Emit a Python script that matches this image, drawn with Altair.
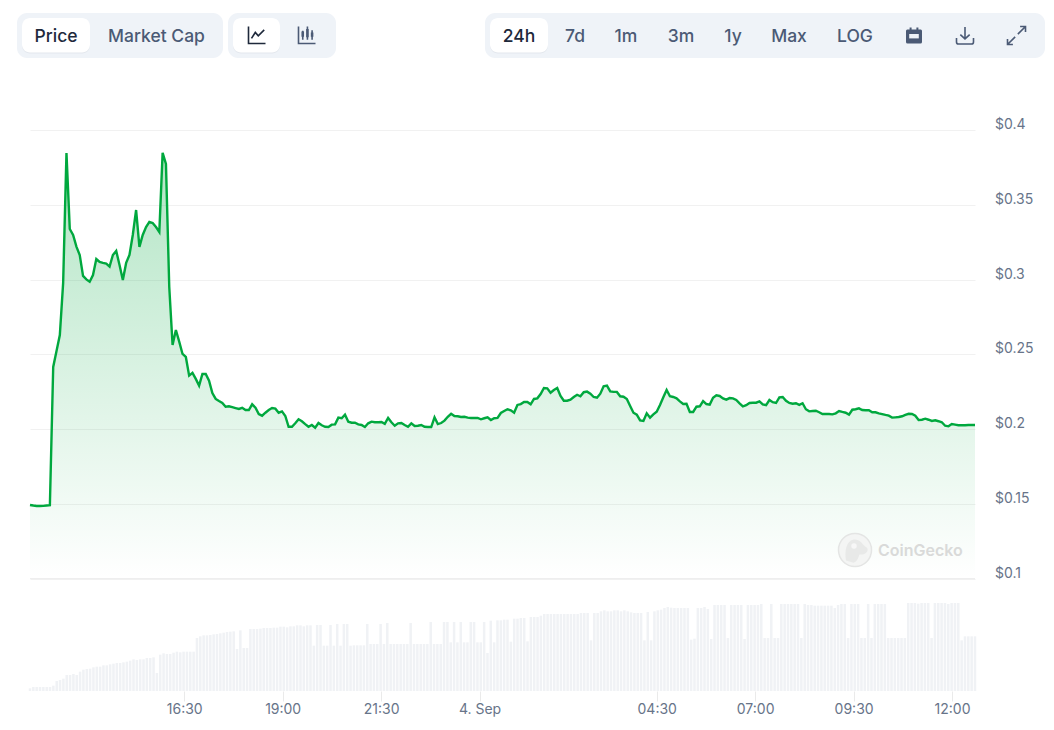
import altair as alt
import pandas as pd

price = [
 .1492,.1488,.1485,.1485,.1486,.1488,.149,.2415,.2522,.2629,.2977,.3846,.3338,.3298,.322,.3164,.3024,.3001,.2985,.303,
 .3137,.3117,.3111,.3106,.3086,.3164,.3191,.3097,.2997,.3111,.3164,.3298,.3465,.3218,.3298,.3351,.3385,.3378,.3351,.3318,
 .3848,.3773,.295,.2562,.2662,.2584,.2502,.2482,.2357,.2375,.2335,.229,.2368,.2368,.2323,.2241,.2201,.2187,.2174,.2149,
 .2152,.2146,.214,.2134,.2142,.2127,.2127,.2165,.2142,.21,
 .2089,.2109,.2127,.214,.2136,.2109,.2118,.2087,.2015,.2015,.2038,.2065,.2052,.2033,.2015,.2027,.2009,.204,.2025,.2015,
 .2013,.2029,.2031,.2076,.2072,.2096,.2049,.2042,.2042,.2031,.2027,.2013,.2038,.2049,.2045,.2045,.2047,.2035,.2074,.2045,
 .2022,.2038,.204,.2027,.2015,.2038,.202,.2022,.2027,.2015,.2013,.2013,.2078,.2033,.204,.2056,.2082,.2102,.2087,.2085,
 .208,.2082,.2076,.2074,.2074,.2074,.2065,.2072,.2078,.206,.2072,.2074,.2107,.212,.2132,.2125,.2109,.2161,.2167,.2181,
 .2181,.2165,.2201,.2205,.2234,.2274,.2272,.2243,.2261,.2274,.2221,.2189,.2189,.2196,.2214,.2229,.2219,.2246,.225,.2236,
 .2214,.2209,.2236,.2286,.229,.2252,.2248,.2248,
 .2219,.2216,.2201,.2154,.2109,.2096,.2058,.2054,.2105,.2076,.2098,.2116,.2161,.2212,.2261,.2219,.2214,.2205,.2185,.2167,
 .2169,.2114,.2114,.2149,.2152,.2187,.2167,.2163,.2209,.2225,.2221,.2205,.2196,.2207,.2205,.2194,.2172,.2152,.2159,.2174,
 .2176,.2176,.2185,.2165,.2159,.2194,.2179,.2174,.2212,.2214,.2189,.2174,.2169,.2172,.2161,.2172,.2132,.2118,.212,.2122,
 .2112,.21,.21,.21,.2098,.2105,.212,.2114,.2109,.2096,.2129,.2132,.2138,.2127,.2125,.2125,.2112,.2112,.2105,.21,
 .2094,.2089,.2076,.2078,.208,.2085,.2094,.2102,.21,.2089,.206,.2062,.2069,.2062,.2054,.2058,.2052,.2045,.2022,.2018,
 .2033,.2029,.2025,.2025,.2025,.2027,.2027,.2027,
]

volume = [
 8,12,12,12,12,12,12,16,30,33,37,48,48,51,48,58,64,66,67,71,73,73,77,77,80,82,84,84,86,88,91,95,93,95,95,99,99,101,54,109,
 113,111,111,115,118,116,118,118,118,118,159,164,167,167,168,170,171,173,175,177,178,179,126,182,129,129,186,186,186,187,
 189,189,189,190,190,193,193,191,194,194,197,197,194,197,197,136,198,198,136,136,198,136,201,136,201,201,136,137,137,137,
 137,201,141,141,141,201,141,204,141,141,141,141,141,141,204,141,141,141,141,141,207,141,141,141,207,207,146,207,146,207,
 146,146,207,207,146,146,207,114,211,146,212,212,214,214,148,217,217,
 219,219,149,222,222,222,226,231,231,231,231,231,231,231,231,231,231,231,234,234,234,152,234,234,239,242,239,239,242,242,
 239,242,239,236,234,234,234,152,237,152,239,242,244,249,252,250,249,249,249,249,249,154,157,249,249,252,246,156,258,258,
 258,258,159,258,258,258,258,156,258,258,258,258,261,159,159,261,159,159,261,261,261,261,261,261,159,261,258,258,256,256,
 256,256,256,256,249,258,261,261,159,261,261,261,159,159,261,159,261,261,261,261,159,159,159,159,159,159,264,264,264,262,
 264,264,264,159,264,264,264,264,261,264,264,264,152,164,164,164,164,
]

tick_times = ["2024-09-03T16:30:00Z", "2024-09-03T19:00:00Z", "2024-09-03T21:30:00Z", "2024-09-04T00:00:00Z",
              "2024-09-04T04:30:00Z", "2024-09-04T07:00:00Z", "2024-09-04T09:30:00Z", "2024-09-04T12:00:00Z"]
price_ticks = [0.1, 0.15, 0.2, 0.25, 0.3, 0.35, 0.4]
range_buttons = [("24h", 519), ("7d", 575), ("1m", 626), ("3m", 681), ("1y", 733), ("Max", 789), ("LOG", 855)]

START = pd.Timestamp("2024-09-03T12:35:00Z")
END = pd.Timestamp("2024-09-04T12:35:00Z")


def spine(n):
    return pd.date_range(START, END, periods=n).strftime("%Y-%m-%dT%H:%M:%SZ").tolist()


def ms(t):
    return int(pd.Timestamp(t).timestamp() * 1000)


price_df = pd.DataFrame({"time": spine(len(price)), "price": price})
vol_df = pd.DataFrame({"time": spine(len(volume)), "volume": volume})

FONT = "Inter"
x_scale = alt.Scale(type="utc", domain=[ms(START), ms(END)], padding=0, nice=False)
x_axis = alt.Axis(
    values=[ms(t) for t in tick_times],
    labelExpr="utchours(datum.value) === 0 ? '4. Sep' : utcFormat(datum.value, '%H:%M')",
    title=None, grid=False, domain=False, tickSize=10, tickColor="#eaeaea", tickWidth=1,
    labelPadding=1, labelFont=FONT, labelFontSize=14, labelColor="#677489", labelOverlap=False, labelFlush=False,
)
y_scale = alt.Scale(domain=[0.1, 0.4], range=[448.5, 0])
y_axis = alt.Axis(
    values=price_ticks, orient="right",
    labelExpr="'$' + format(datum.value, '.2~f')",
    title=None, grid=True, gridColor="#f1f1f1", gridWidth=1, domain=False, ticks=False,
    labelPadding=19.5, labelOffset=-5.5, labelFont=FONT, labelFontSize=14, labelColor="#677489", labelAlign="left",
    labelBaseline="middle",
)
X = alt.X("time:T", scale=x_scale, axis=x_axis)

bars = alt.Chart(vol_df).mark_bar(width=2.5, color="#f0f2f5").encode(
    x=X,
    y=alt.Y("volume:Q", scale=alt.Scale(domain=[0, 264], range=[561, 473]), axis=None),
)

gradient = alt.Gradient(
    gradient="linear", x1=1, x2=1, y1=0, y2=1,
    stops=[alt.GradientStop(color="rgba(0,168,62,0.3)", offset=0),
           alt.GradientStop(color="rgba(0,168,62,0)", offset=1)],
)
area = alt.Chart(price_df).mark_area(color=gradient, interpolate="linear").encode(
    x=X,
    y=alt.Y("price:Q", scale=y_scale, axis=y_axis),
    y2=alt.Y2Datum(0.1),
)
base_rule = alt.Chart(pd.DataFrame({"v": [0.1]})).mark_rule(color="#eeeeee", strokeWidth=1).encode(
    y=alt.Y("v:Q", scale=y_scale, axis=y_axis),
)
line = alt.Chart(price_df).mark_line(color="#00a83e", strokeWidth=2.4, interpolate="linear").encode(
    x=X,
    y=alt.Y("price:Q", scale=y_scale, axis=y_axis),
)


def px(v):
    return v - 30


def py(v):
    return v - 130


def box(x0, x1, y0, y1, fill, r):
    return alt.Chart().mark_rect(color=fill, cornerRadius=r).encode(
        x=alt.value(px(x0)), x2=alt.value(px(x1)), y=alt.value(py(y0)), y2=alt.value(py(y1)))


def label(s, x, y, color, size=17.5, weight=500, align="center"):
    return alt.Chart().mark_text(text=s, font=FONT, fontSize=size, fontWeight=weight, color=color,
                                 align=align, baseline="middle").encode(
        x=alt.value(px(x)), y=alt.value(py(y)))


def icon(path, x, y, d, stroke=None, fill=None, sw=1.6):
    kw = {"shape": path, "size": d * d, "filled": fill is not None, "opacity": 1}
    if stroke:
        kw.update(stroke=stroke, strokeWidth=sw)
    if fill:
        kw.update(fill=fill)
    return alt.Chart().mark_point(**kw).encode(x=alt.value(px(x)), y=alt.value(py(y)))


PANEL = "#eff3f8"
ACTIVE = "#1e293b"
MUTED = "#4b5a75"
ui = [
    box(17, 223, 13, 58, PANEL, 10), box(228, 336, 13, 58, PANEL, 10), box(485, 1045, 13, 58, PANEL, 10),
    box(22, 90, 19, 53.5, "#e3e7ed", 8), box(233, 280, 19, 53.5, "#e3e7ed", 8), box(490, 548, 19, 53.5, "#e3e7ed", 8),
    box(22, 90, 18, 52.5, "#ffffff", 8), box(233, 280, 18, 52.5, "#ffffff", 8), box(490, 548, 18, 52.5, "#ffffff", 8),
    label("Price", 56, 37, ACTIVE), label("Market Cap", 156.5, 37, MUTED),
]
for i, (t, cx) in enumerate(range_buttons):
    ui.append(label(t, cx, 37, ACTIVE if i == 0 else MUTED))
ui += [
    icon("M-1,-1 L-1,1 L1,1 M-0.65,0.4 L-0.2,-0.3 L0.15,0.1 L0.85,-0.6", 257, 35, 17, stroke=ACTIVE),
    icon("M-1,-1 L-1,1 L1,1 M-0.5,-0.5 L-0.5,0.55 M0.05,-1 L0.05,0.55 M0.6,-0.55 L0.6,0.55", 307, 35, 17, stroke=MUTED),
    icon("M-0.65,-0.4 H-0.35 V0.2 H-0.65 Z M-0.1,-0.7 H0.2 V0.25 H-0.1 Z M0.45,-0.3 H0.75 V0.2 H0.45 Z", 307, 35, 17, fill=MUTED),
    icon("M-0.85,-0.75 H-0.55 V-1 H-0.3 V-0.75 H0.3 V-1 H0.55 V-0.75 H0.85 Q1,-0.75 1,-0.55 V0.8 Q1,1 0.8,1 H-0.8 Q-1,1 -1,0.8 V-0.55 Q-1,-0.75 -0.85,-0.75 Z",
         914, 35.5, 16, fill=MUTED),
    icon("M-0.6,-0.25 H0.6 V0.3 H-0.6 Z", 914, 36, 16, fill="#eff3f8"),
    icon("M0,-1 V0.4 M-0.55,-0.1 L0,0.4 L0.55,-0.1 M-1,0.3 V0.75 Q-1,1 -0.75,1 H0.75 Q1,1 1,0.75 V0.3", 965, 35.5, 17, stroke=MUTED),
    icon("M0.15,-0.15 L1,-1 M0.4,-1 H1 V-0.4 M-0.15,0.15 L-1,1 M-1,0.4 V1 H-0.4", 1016.5, 35.5, 18, stroke=MUTED),
    # watermark
    alt.Chart().mark_point(shape="circle", size=1090, filled=True, fill="#f4f5f4", stroke="#e4e5e4", strokeWidth=1.5, opacity=1).encode(
        x=alt.value(px(855)), y=alt.value(py(550))),
    icon("M-0.6,0.7 C-0.7,0.1 -0.6,-0.6 -0.1,-0.7 C0.4,-0.75 0.5,-0.3 0.8,-0.15 C0.95,0.05 0.7,0.35 0.3,0.3 C0.2,0.6 0.1,0.8 -0.1,0.85 Z",
         855, 550, 30, fill="#e8e9e8"),
    alt.Chart().mark_point(shape="circle", size=30, filled=True, fill="#f7f7f7", opacity=1).encode(
        x=alt.value(px(854)), y=alt.value(py(546))),
    label("CoinGecko", 878, 551, "#d9dad9", size=16, weight=600, align="left"),
]

price_group = alt.layer(area, base_rule, line)
chart = (
    alt.layer(bars, price_group, *ui)
    .resolve_scale(y="independent")
    .properties(
        width=945, height=561, background="white",
        padding={"left": 22, "top": 122, "right": 71, "bottom": 28},
        autosize=alt.AutoSizeParams(type="none"),
    )
    .configure_view(stroke=None)
)
chart.save("out.html", embed_options={"renderer": "svg", "actions": False})
